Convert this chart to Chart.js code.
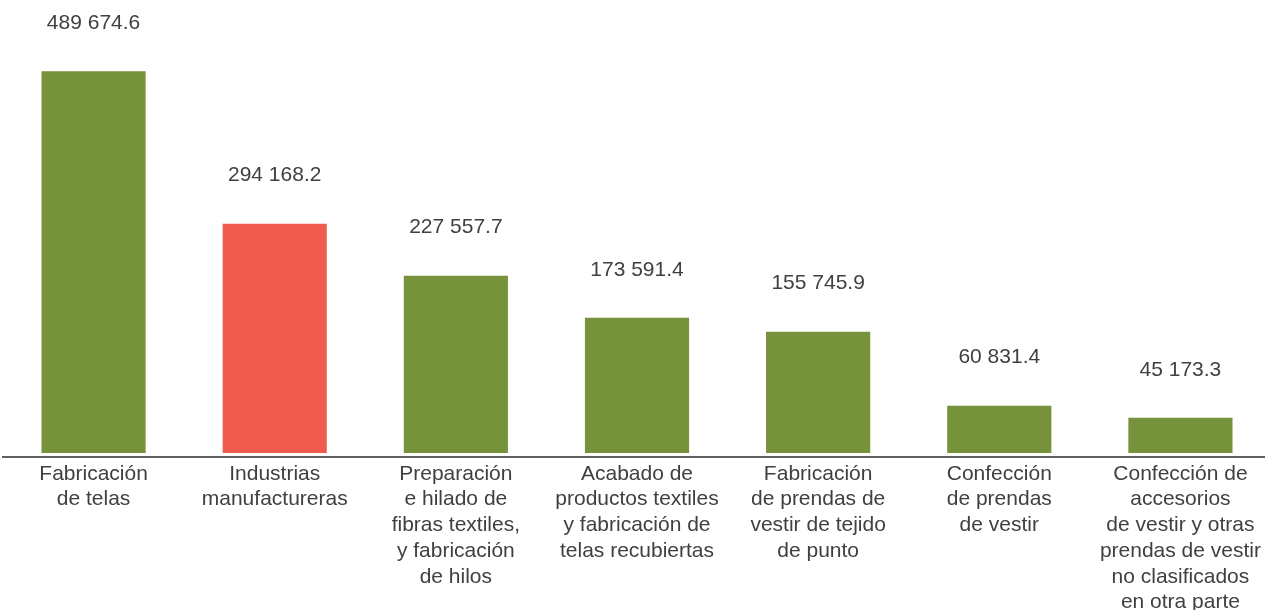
<!DOCTYPE html>
<html>
<head>
<meta charset="utf-8">
<script src="https://cdn.jsdelivr.net/npm/chart.js@4.4.0/dist/chart.umd.min.js"></script>
<style>
  html, body { margin: 0; padding: 0; background: #fff; overflow: hidden; }
  #wrap { width: 1271px; height: 610px; position: relative; }
</style>
</head>
<body>
<div id="wrap"><canvas id="myChart"></canvas></div>
<script>
const categories = [
  ['Fabricación', 'de telas'],
  ['Industrias', 'manufactureras'],
  ['Preparación', 'e hilado de', 'fibras textiles,', 'y fabricación', 'de hilos'],
  ['Acabado de', 'productos textiles', 'y fabricación de', 'telas recubiertas'],
  ['Fabricación', 'de prendas de', 'vestir de tejido', 'de punto'],
  ['Confección', 'de prendas', 'de vestir'],
  ['Confección de', 'accesorios', 'de vestir y otras', 'prendas de vestir', 'no clasificados', 'en otra parte']
];
const values = [489674.6, 294168.2, 227557.7, 173591.4, 155745.9, 60831.4, 45173.3];
const barColors = ['#76923b', '#ef5b4f', '#76923b', '#76923b', '#76923b', '#76923b', '#76923b'];

const fontFamily = '"Liberation Sans", Arial, sans-serif';
const textColor = '#404040';

// value labels above bars (space as thousands separator)
function fmt(v) {
  const parts = v.toFixed(1).split('.');
  return parts[0].replace(/\B(?=(\d{3})+(?!\d))/g, ' ') + '.' + parts[1];
}

const valueLabels = {
  id: 'valueLabels',
  afterDatasetsDraw(chart) {
    const ctx = chart.ctx;
    const meta = chart.getDatasetMeta(0);
    ctx.save();
    ctx.font = '21px ' + fontFamily;
    ctx.fillStyle = textColor;
    ctx.textAlign = 'center';
    ctx.textBaseline = 'middle';
    meta.data.forEach((bar, i) => {
      ctx.fillText(fmt(values[i]), bar.x, bar.y - 48);
    });
    ctx.restore();
  }
};

const data = {
  labels: categories,
  datasets: [{
    data: values,
    backgroundColor: barColors,
    borderWidth: 0,
    barPercentage: 0.575,
    categoryPercentage: 1
  }]
};

const config = {
  type: 'bar',
  data: data,
  options: {
    responsive: true,
    maintainAspectRatio: false,
    animation: false,
    plugins: {
      legend: { display: false },
      tooltip: { enabled: false }
    },
    layout: {
      padding: { top: 0, bottom: 0, left: 3, right: 0 }
    },
    scales: {
      x: {
        grid: { display: false, drawTicks: false },
        border: { display: true, color: '#606060', width: 2 },
        ticks: {
          color: textColor,
          font: { family: fontFamily, size: 21, lineHeight: 1.225 },
          padding: 4,
          maxRotation: 0,
          autoSkip: false
        },
        afterFit(scale) { scale.height = 153; }
      },
      y: {
        display: false,
        min: -5000,
        max: 581000
      }
    }
  },
  plugins: [valueLabels]
};

const myChart = new Chart(document.getElementById('myChart'), config);
</script>
</body>
</html>
